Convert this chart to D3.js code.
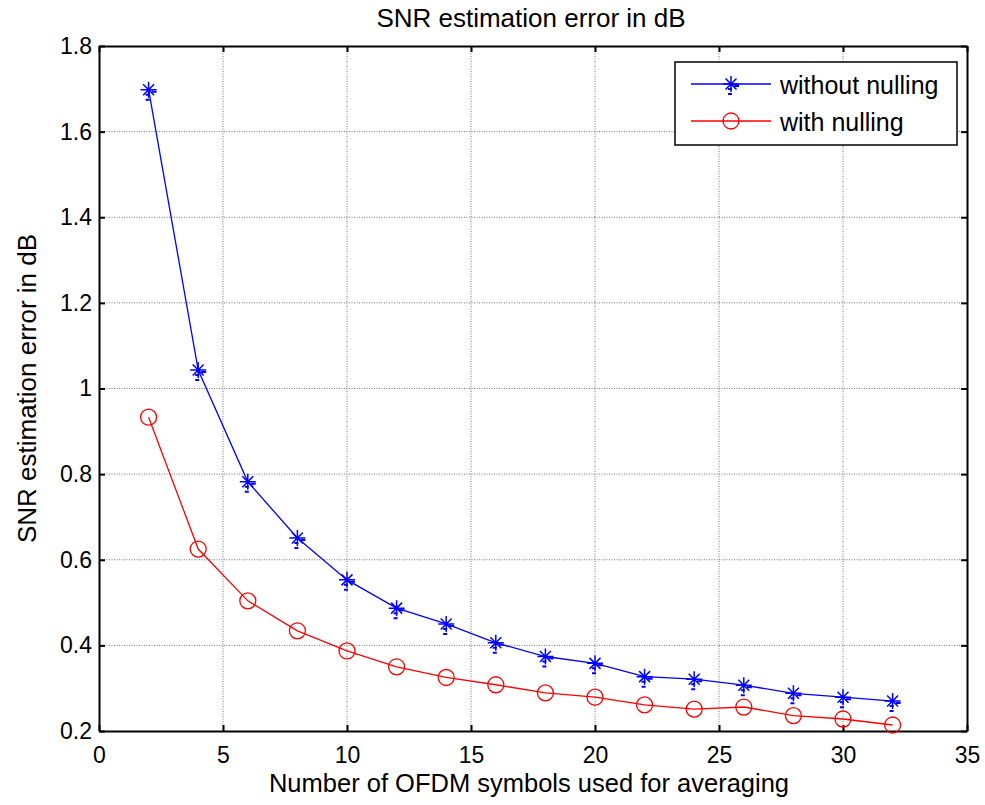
<!DOCTYPE html>
<html><head><meta charset="utf-8">
<script src="https://cdn.jsdelivr.net/npm/d3@7"></script>
<style>body{margin:0;background:#fff;} text{font-family:"Liberation Sans",Arial,sans-serif;}</style>
</head><body>
<svg id="c" width="985" height="805"></svg>
<script>
const xs = [2,4,6,8,10,12,14,16,18,20,22,24,26,28,30,32];
const withoutNulling = [1.698,1.043,0.782,0.651,0.553,0.487,0.450,0.406,0.374,0.358,0.327,0.321,0.307,0.288,0.279,0.270];
const withNulling = [0.933,0.625,0.504,0.434,0.387,0.350,0.325,0.308,0.289,0.279,0.261,0.251,0.256,0.236,0.228,0.214];
const xTicks = [0,5,10,15,20,25,30,35];
const yTicks = [0.2,0.4,0.6,0.8,1,1.2,1.4,1.6,1.8];
const seriesNames = ["without nulling","with nulling"];

const svg = d3.select("#c");
const L=99, R=967, T=46, B=731;
const x = d3.scaleLinear().domain([0,35]).range([L,R]);
const y = d3.scaleLinear().domain([0.2,1.8]).range([B,T]);
svg.append("rect").attr("width",985).attr("height",805).attr("fill","#fff");

// grid
const g = svg.append("g");
g.selectAll(".gx").data(xTicks.slice(1,-1)).join("line")
 .attr("x1",d=>x(d)).attr("x2",d=>x(d)).attr("y1",T).attr("y2",B)
 .attr("stroke","#777").attr("stroke-width",1).attr("stroke-dasharray","1,1.5");
g.selectAll(".gy").data(yTicks.slice(1,-1)).join("line")
 .attr("y1",d=>y(d)).attr("y2",d=>y(d)).attr("x1",L).attr("x2",R)
 .attr("stroke","#777").attr("stroke-width",1).attr("stroke-dasharray","1,1.5");

// axes
const fmt = d=>d3.format("")(+d.toFixed(1));
const ax = svg.append("g").attr("transform",`translate(0,${B})`).call(d3.axisBottom(x).tickValues(xTicks).tickSizeInner(-6).tickSizeOuter(0).tickPadding(16));
const ax2 = svg.append("g").attr("transform",`translate(0,${T})`).call(d3.axisTop(x).tickValues(xTicks).tickSizeInner(-6).tickSizeOuter(0).tickFormat(""));
const ay = svg.append("g").attr("transform",`translate(${L},0)`).call(d3.axisLeft(y).tickValues(yTicks).tickFormat(fmt).tickSizeInner(-6).tickSizeOuter(0).tickPadding(7));
const ay2 = svg.append("g").attr("transform",`translate(${R},0)`).call(d3.axisRight(y).tickValues(yTicks).tickSizeInner(-6).tickSizeOuter(0).tickFormat(""));
[ax,ax2,ay,ay2].forEach(a=>{
  a.attr("font-size",23).attr("font-family","Liberation Sans, Arial, sans-serif");
  a.selectAll("path.domain").attr("stroke","#000").attr("stroke-width",2);
  a.selectAll(".tick line").attr("stroke","#000").attr("stroke-width",2);
  a.selectAll("text").attr("fill","#000");
});

// titles
svg.append("text").attr("x",531).attr("y",27).attr("text-anchor","middle").attr("font-size",26).text("SNR estimation error in dB");
svg.append("text").attr("x",529).attr("y",792).attr("text-anchor","middle").attr("font-size",25.5).text("Number of OFDM symbols used for averaging");
svg.append("text").attr("transform",`translate(36,${(T+B)/2}) rotate(-90)`).attr("text-anchor","middle").attr("font-size",26).text("SNR estimation error in dB");

// lines
const line = d3.line().x(d=>x(d[0])).y(d=>y(d[1]));
const blue = xs.map((v,i)=>[v,withoutNulling[i]]);
const red = xs.map((v,i)=>[v,withNulling[i]]);
svg.append("path").datum(blue).attr("d",line).attr("fill","none").attr("stroke","#0000ff").attr("stroke-width",1.3);
svg.append("path").datum(red).attr("d",line).attr("fill","none").attr("stroke","#ff0000").attr("stroke-width",1.3);

function star(sel,cx,cy){
  const s=8, d=5.5;
  const p=`M${cx-s},${cy}L${cx+s},${cy}M${cx},${cy-s}L${cx},${cy+s}M${cx-d},${cy-d}L${cx+d},${cy+d}M${cx-d},${cy+d}L${cx+d},${cy-d}`;
  sel.append("path").attr("d",p).attr("stroke","#0000ff").attr("stroke-width",1.5).attr("fill","none");
  const q=`M${cx+3},${cy+2}L${cx+8},${cy+2}M${cx-3},${cy+5}L${cx+1},${cy+5}M${cx-3},${cy+10}L${cx+1},${cy+10}`;
  sel.append("path").attr("d",q).attr("stroke","#0000ff").attr("stroke-width",2).attr("fill","none");
}
blue.forEach(d=>star(svg,x(d[0]),y(d[1])));
svg.selectAll(".circ").data(red).join("circle").attr("cx",d=>x(d[0])).attr("cy",d=>y(d[1])).attr("r",8)
 .attr("fill","none").attr("stroke","#ff0000").attr("stroke-width",1.3);

// legend
const lg = svg.append("g");
lg.append("rect").attr("x",675).attr("y",62).attr("width",282).attr("height",83).attr("fill","#fff").attr("stroke","#000").attr("stroke-width",1.5);
const rows=[84,121];
lg.append("line").attr("x1",691).attr("x2",771).attr("y1",rows[0]).attr("y2",rows[0]).attr("stroke","#0000ff").attr("stroke-width",1.3);
star(lg,731,rows[0]);
lg.append("line").attr("x1",691).attr("x2",771).attr("y1",rows[1]).attr("y2",rows[1]).attr("stroke","#ff0000").attr("stroke-width",1.3);
lg.append("circle").attr("cx",731).attr("cy",rows[1]).attr("r",8).attr("fill","none").attr("stroke","#ff0000").attr("stroke-width",1.3);
seriesNames.forEach((n,i)=>lg.append("text").attr("x",780).attr("y",rows[i]+10).attr("font-size",25).text(n));
</script>
</body></html>
